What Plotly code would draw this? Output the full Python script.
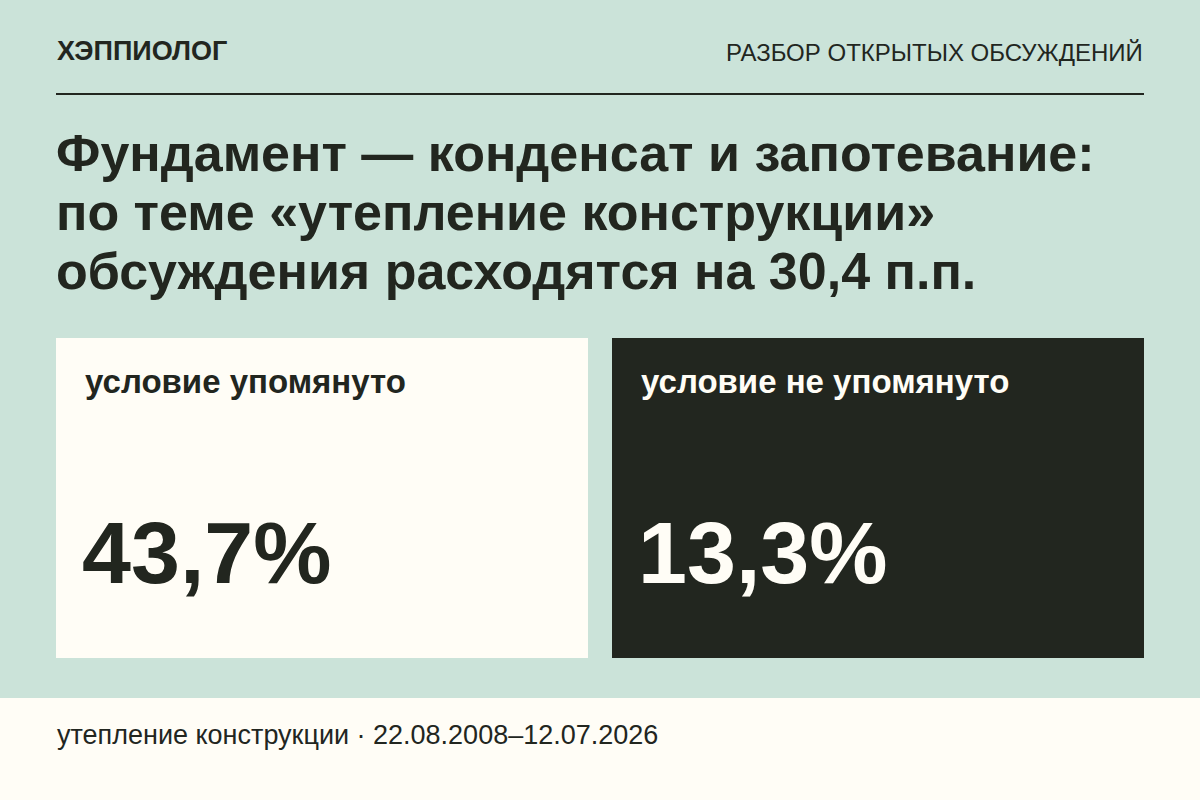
import plotly.graph_objects as go

# данные карточки
brand = "ХЭППИОЛОГ"
section = "РАЗБОР ОТКРЫТЫХ ОБСУЖДЕНИЙ"
topic = "утепление конструкции"
pair = "Фундамент — конденсат и запотевание"
groups = ["условие упомянуто", "условие не упомянуто"]
shares = [43.7, 13.3]
gap_pp = 30.4
period = "22.08.2008–12.07.2026"

MINT = "#cbe3d9"
CREAM = "#fffdf6"
DARK = "#22261f"
FONT = "Liberation Sans, Arial, sans-serif"


def fmt(v):
    return f"{v:.1f}".replace(".", ",")


fig = go.Figure()

shapes = [
    dict(type="rect", x0=0, x1=1200, y0=0, y1=698, fillcolor=MINT, line_width=0, layer="below"),
    dict(type="rect", x0=0, x1=1200, y0=698, y1=800, fillcolor=CREAM, line_width=0, layer="below"),
    dict(type="line", x0=56, x1=1144, y0=94, y1=94, line=dict(color=DARK, width=2)),
]

annotations = [
    dict(x=55, y=51, text=f"<b>{brand}</b>", xanchor="left", font=dict(size=27, color=DARK)),
    dict(x=1145, y=52, text=section, xanchor="right", font=dict(size=24, color=DARK)),
]

title_lines = [
    f"{pair}:",
    f"по теме «{topic}»",
    f"обсуждения расходятся на {fmt(gap_pp)} п.п.",
]
for i, line in enumerate(title_lines):
    annotations.append(dict(x=54, y=153 + i * 59, text=f"<b>{line}</b>", xanchor="left",
                            font=dict(size=52, color=DARK)))

card_fill = [CREAM, DARK]
card_text = [DARK, CREAM]
card_x = [56, 612]
for i, (g, v) in enumerate(zip(groups, shares)):
    x0 = card_x[i]
    shapes.append(dict(type="rect", x0=x0, x1=x0 + 532, y0=338, y1=658,
                       fillcolor=card_fill[i], line_width=0, layer="below"))
    annotations.append(dict(x=x0 + 27, y=381, text=f"<b>{g}</b>", xanchor="left",
                            font=dict(size=33, color=card_text[i])))
    annotations.append(dict(x=x0 + 24, y=552, text=f"<b>{fmt(v)}%</b>", xanchor="left",
                            font=dict(size=88, color=card_text[i])))

annotations.append(dict(x=55, y=735, text=f"{topic} · {period}", xanchor="left",
                        font=dict(size=27, color=DARK)))

for a in annotations:
    a.update(xref="x", yref="y", showarrow=False, yanchor="middle")

fig.update_layout(
    width=1200, height=800,
    margin=dict(l=0, r=0, t=0, b=0),
    paper_bgcolor=MINT, plot_bgcolor=MINT,
    font=dict(family=FONT, color=DARK),
    xaxis=dict(range=[0, 1200], visible=False, fixedrange=True),
    yaxis=dict(range=[800, 0], visible=False, fixedrange=True),
    shapes=shapes, annotations=annotations, showlegend=False,
)

fig.write_html("out.html", config={"displayModeBar": False, "staticPlot": True},
               post_script="document.body.style.margin='0';document.body.style.overflow='hidden';")
